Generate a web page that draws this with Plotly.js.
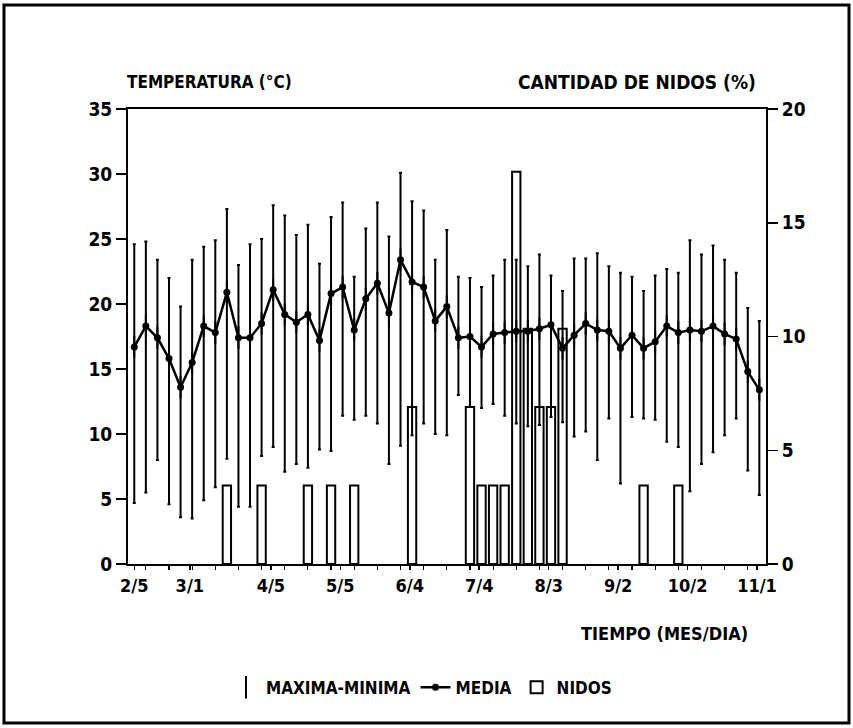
<!DOCTYPE html>
<html>
<head>
<meta charset="utf-8">
<script src="https://cdn.plot.ly/plotly-3.0.1.min.js"></script>
<style>
html,body{margin:0;padding:0;background:#fff;}
#chart{width:853px;height:728px;}
</style>
</head>
<body>
<div id="chart"></div>
<script>
// Dates of each 5-day observation (year is arbitrary, non-leap)
const dates = [
 "1991-02-05","1991-02-10","1991-02-15","1991-02-20","1991-02-25",
 "1991-03-02","1991-03-07","1991-03-12","1991-03-17","1991-03-22","1991-03-27",
 "1991-04-01","1991-04-06","1991-04-11","1991-04-16","1991-04-21","1991-04-26",
 "1991-05-01","1991-05-06","1991-05-11","1991-05-16","1991-05-21","1991-05-26","1991-05-31",
 "1991-06-05","1991-06-10","1991-06-15","1991-06-20","1991-06-25","1991-06-30",
 "1991-07-05","1991-07-10","1991-07-15","1991-07-20","1991-07-25","1991-07-30",
 "1991-08-04","1991-08-09","1991-08-14","1991-08-19","1991-08-24","1991-08-29",
 "1991-09-03","1991-09-08","1991-09-13","1991-09-18","1991-09-23","1991-09-28",
 "1991-10-03","1991-10-08","1991-10-13","1991-10-18","1991-10-23","1991-10-28",
 "1991-11-02"
];
const tempMax = [24.6,24.8,23.4,22.0,19.8,23.4,24.4,24.9,27.3,23.0,24.6,25.0,27.6,26.8,25.3,26.1,23.1,26.7,27.8,22.1,25.8,27.8,25.2,30.1,27.9,27.2,23.4,25.7,22.1,22.0,21.3,22.2,23.4,23.4,22.9,23.8,22.2,21.0,23.5,23.5,23.9,22.9,22.4,22.1,21.0,22.2,22.7,22.4,24.9,23.8,24.5,23.4,22.4,19.7,18.7];
const tempMin = [4.7,5.5,8.0,4.6,3.6,3.5,4.9,5.9,8.1,4.4,4.4,8.3,9.0,7.1,7.7,7.4,8.8,8.7,11.4,11.1,11.4,10.8,7.7,9.1,9.9,10.8,10.0,9.9,13.0,12.1,12.0,12.3,11.4,10.8,10.6,10.7,11.3,10.9,9.8,10.2,8.0,11.2,6.2,11.3,11.2,11.1,9.4,9.0,5.6,7.7,8.6,9.9,11.2,7.2,5.3];
const tempMean = [16.7,18.3,17.4,15.8,13.6,15.5,18.3,17.8,20.9,17.4,17.4,18.5,21.1,19.2,18.6,19.2,17.2,20.8,21.3,18.0,20.4,21.6,19.3,23.4,21.7,21.3,18.7,19.8,17.4,17.5,16.7,17.7,17.8,17.9,17.9,18.1,18.4,16.6,17.6,18.5,18.0,17.9,16.6,17.6,16.6,17.1,18.3,17.8,18.0,17.9,18.3,17.7,17.3,14.8,13.4];
// Nests (% of total) on the dates where nests were found
const nestDates = ["1991-03-17","1991-04-01","1991-04-21","1991-05-01","1991-05-11","1991-06-05","1991-06-30","1991-07-05","1991-07-10","1991-07-15","1991-07-20","1991-07-25","1991-07-30","1991-08-04","1991-08-09","1991-09-13","1991-09-28"];
const nestPct = [3.45,3.45,3.45,3.45,3.45,6.9,6.9,3.45,3.45,3.45,17.24,10.34,6.9,6.9,10.34,3.45,3.45];
// Axis tick labels
const tickDates = ["1991-02-05","1991-03-01","1991-04-05","1991-05-05","1991-06-04","1991-07-04","1991-08-03","1991-09-02","1991-10-02","1991-11-01"];
const tickLabels = ["2/5","3/1","4/5","5/5","6/4","7/4","8/3","9/2","10/2","11/1"];

const errPlus = tempMax.map((v,i)=>v-tempMean[i]);
const errMinus = tempMean.map((v,i)=>v-tempMin[i]);

const FONT = "DejaVu Sans Condensed, Liberation Sans Narrow, Arial, sans-serif";

const traces = [
  {
    type:'bar', name:'NIDOS', x:nestDates, y:nestPct, yaxis:'y', legendrank:3,
    width: 3.6*86400000,
    marker:{color:'#ffffff', line:{color:'#000', width:2}},
    hoverinfo:'skip'
  },
  {
    type:'scatter', mode:'markers', name:'MAXIMA-MINIMA', x:dates, y:tempMean, yaxis:'y2', legendrank:1,
    marker:{symbol:'line-ns-open', size:16, color:'#000', line:{color:'#000', width:2}},
    error_y:{type:'data', symmetric:false, array:errPlus, arrayminus:errMinus, color:'#000', thickness:2, width:1.5},
    hoverinfo:'skip'
  },
  {
    type:'scatter', mode:'lines+markers', name:'MEDIA', x:dates, y:tempMean, yaxis:'y2', legendrank:2,
    line:{color:'#000', width:2.5},
    marker:{symbol:'circle', size:7, color:'#000'},
    hoverinfo:'skip'
  }
];

const layout = {
  width:853, height:728,
  margin:{l:128, r:87, t:109, b:164},
  paper_bgcolor:'#fff', plot_bgcolor:'#fff',
  font:{family:FONT, size:15, color:'#000', weight:'bold'},
  showlegend:true,
  legend:{orientation:'h', x:0.46, y:-0.272, xanchor:'center', yanchor:'middle',
          font:{family:FONT, size:17, weight:'bold'}, traceorder:'normal', itemwidth:30},
  bargap:0,
  xaxis:{
    type:'date',
    range:['1991-02-02 07:00','1991-11-04 21:00'],
    tickmode:'array', tickvals:tickDates, ticktext:tickLabels,
    ticks:'outside', ticklen:4, tickwidth:1.5, tickcolor:'#000',
    showline:true, linecolor:'#000', linewidth:2, mirror:true,
    showgrid:false, zeroline:false,
    tickfont:{family:FONT, size:18, weight:'bold'},
    minor:{ticks:'outside', ticklen:4, tickwidth:1.2, tickcolor:'#000', dtick:10*86400000, tick0:'1991-02-10', showgrid:false}
  },
  yaxis:{
    side:'right', range:[0,20], tickvals:[0,5,10,15,20],
    ticks:'outside', ticklen:10, tickwidth:1.5, tickcolor:'#000',
    showline:true, linecolor:'#000', linewidth:2,
    showgrid:false, zeroline:false,
    tickfont:{family:FONT, size:19, weight:'bold'}
  },
  yaxis2:{
    side:'left', overlaying:'y', range:[0,35], tickvals:[0,5,10,15,20,25,30,35],
    ticks:'outside', ticklen:10, tickwidth:1.5, tickcolor:'#000',
    showline:true, linecolor:'#000', linewidth:2,
    showgrid:false, zeroline:false,
    tickfont:{family:FONT, size:19, weight:'bold'}
  },
  annotations:[
    {text:'TEMPERATURA (°C)', xref:'paper', yref:'paper', x:-0.005, y:1.059, xanchor:'left', yanchor:'middle', showarrow:false, font:{family:FONT, size:17, weight:'bold'}},
    {text:'CANTIDAD DE NIDOS (%)', xref:'paper', yref:'paper', x:0.987, y:1.059, xanchor:'right', yanchor:'middle', showarrow:false, font:{family:FONT, size:19, weight:'bold'}},
    {text:'TIEMPO (MES/DIA)', xref:'paper', yref:'paper', x:0.975, y:-0.152, xanchor:'right', yanchor:'middle', showarrow:false, font:{family:FONT, size:18, weight:'bold'}}
  ],
  shapes:[
    {type:'rect', xref:'paper', yref:'paper', x0:-0.1944, x1:1.1301, y0:-0.3495, y1:1.2286, line:{color:'#000', width:3}, fillcolor:'rgba(0,0,0,0)', layer:'above'}
  ]
};

Plotly.newPlot('chart', traces, layout, {staticPlot:true, displayModeBar:false});
</script>
</body>
</html>
